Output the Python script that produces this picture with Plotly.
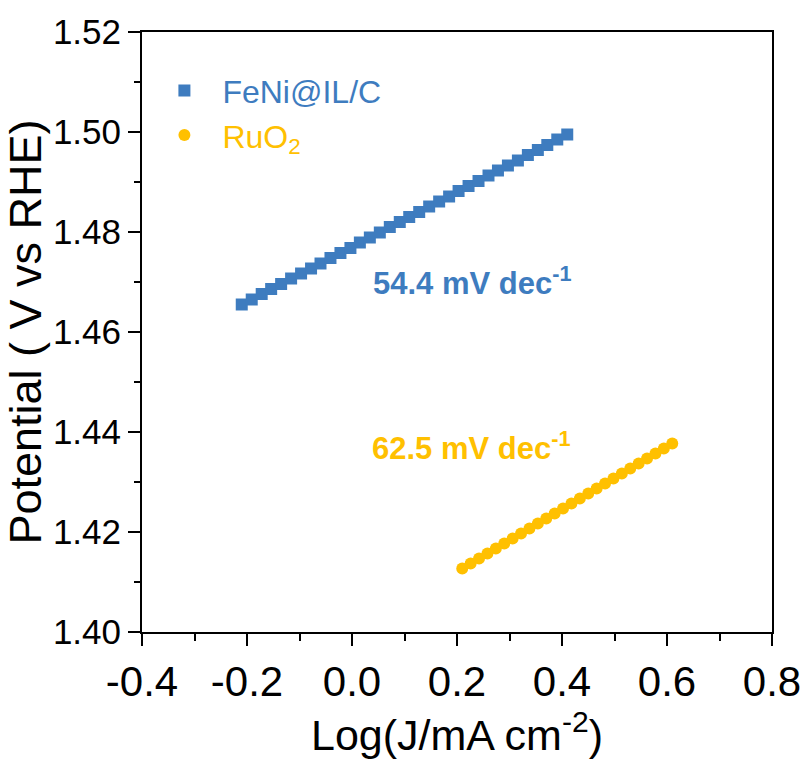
import plotly.graph_objects as go

# Tafel data: log current density vs potential
feni_logj = [-0.210, -0.191, -0.172, -0.154, -0.135, -0.116, -0.097, -0.078, -0.060, -0.041,
             -0.022, -0.003, 0.015, 0.034, 0.053, 0.072, 0.091, 0.109, 0.128, 0.147,
             0.166, 0.185, 0.203, 0.222, 0.241, 0.260, 0.278, 0.297, 0.316, 0.335,
             0.354, 0.372, 0.391, 0.410]
feni_potential = [1.4655, 1.4665, 1.4676, 1.4686, 1.4696, 1.4707, 1.4717, 1.4727, 1.4737, 1.4748,
                  1.4758, 1.4768, 1.4779, 1.4789, 1.4799, 1.4810, 1.4820, 1.4830, 1.4840, 1.4851,
                  1.4861, 1.4871, 1.4882, 1.4892, 1.4902, 1.4913, 1.4923, 1.4933, 1.4943, 1.4954,
                  1.4964, 1.4974, 1.4985, 1.4995]

ruo2_logj = [0.210, 0.226, 0.242, 0.258, 0.274, 0.290, 0.306, 0.322, 0.338, 0.354,
             0.370, 0.386, 0.402, 0.418, 0.434, 0.450, 0.466, 0.482, 0.498, 0.514,
             0.530, 0.546, 0.562, 0.578, 0.594, 0.610]
ruo2_potential = [1.4127, 1.4137, 1.4147, 1.4157, 1.4167, 1.4177, 1.4187, 1.4197, 1.4207, 1.4217,
                  1.4227, 1.4237, 1.4247, 1.4257, 1.4267, 1.4277, 1.4287, 1.4297, 1.4307, 1.4317,
                  1.4327, 1.4337, 1.4347, 1.4357, 1.4367, 1.4377]

x_tickvals = [-0.4, -0.2, 0.0, 0.2, 0.4, 0.6, 0.8]
x_ticktext = ["-0.4", "-0.2", "0.0", "0.2", "0.4", "0.6", "0.8"]
y_tickvals = [1.40, 1.42, 1.44, 1.46, 1.48, 1.50, 1.52]
y_ticktext = ["1.40", "1.42", "1.44", "1.46", "1.48", "1.50", "1.52"]

slope_labels = ["54.4 mV dec<sup>-1</sup>", "62.5 mV dec<sup>-1</sup>"]
slope_pos = [(0.036, 1.4702), (0.034, 1.4372)]

BLUE = "#3E7CBF"
GOLD = "#FFC000"
FONT = "Liberation Sans, Arial, sans-serif"

fig = go.Figure()
fig.add_trace(go.Scatter(
    x=feni_logj, y=feni_potential, mode="markers",
    name=f'<span style="color:{BLUE}">FeNi@IL/C</span>',
    marker=dict(symbol="square", size=12, color=BLUE),
))
fig.add_trace(go.Scatter(
    x=ruo2_logj, y=ruo2_potential, mode="markers",
    name=f'<span style="color:{GOLD}">RuO<sub>2</sub></span>',
    marker=dict(symbol="circle", size=12, color=GOLD),
))

for text, (xv, yv), col in zip(slope_labels, slope_pos, [BLUE, GOLD]):
    fig.add_annotation(
        x=xv, y=yv, xref="x", yref="y", text=f"<b>{text}</b>",
        showarrow=False, xanchor="left", yanchor="middle",
        font=dict(family=FONT, size=31, color=col),
    )

axis_common = dict(
    showline=True, linewidth=2, linecolor="black", mirror=True,
    ticks="outside", ticklen=12, tickwidth=2, tickcolor="black",
    showgrid=False, zeroline=False, automargin=False,
)

fig.update_xaxes(
    range=[-0.4, 0.8], tickvals=x_tickvals, ticktext=x_ticktext,
    tickfont=dict(family=FONT, size=42, color="black"),
    minor=dict(ticks="outside", ticklen=7, tickwidth=2, tickcolor="black", dtick=0.1, tick0=-0.4),
    title=dict(text="Log(J/mA cm<sup>-2</sup>)", font=dict(family=FONT, size=43, color="black"),
               standoff=4),
    **axis_common,
)
fig.update_yaxes(
    range=[1.40, 1.52], tickvals=y_tickvals, ticktext=y_ticktext,
    tickfont=dict(family=FONT, size=35, color="black"),
    minor=dict(ticks="outside", ticklen=6, tickwidth=2, tickcolor="black", dtick=0.01, tick0=1.40),
    title=dict(text="Potential ( V vs RHE)", font=dict(family=FONT, size=45, color="black"),
               standoff=6),
    **axis_common,
)

fig.update_layout(
    width=805, height=767,
    margin=dict(l=142, r=33, t=32, b=135),
    paper_bgcolor="white", plot_bgcolor="white",
    showlegend=True,
    legend=dict(
        x=0.007, y=0.948, xanchor="left", yanchor="top",
        font=dict(family=FONT, size=32),
        itemwidth=66, bgcolor="rgba(0,0,0,0)", borderwidth=0,
        tracegroupgap=0,
    ),
)

fig.write_html("out.html")
